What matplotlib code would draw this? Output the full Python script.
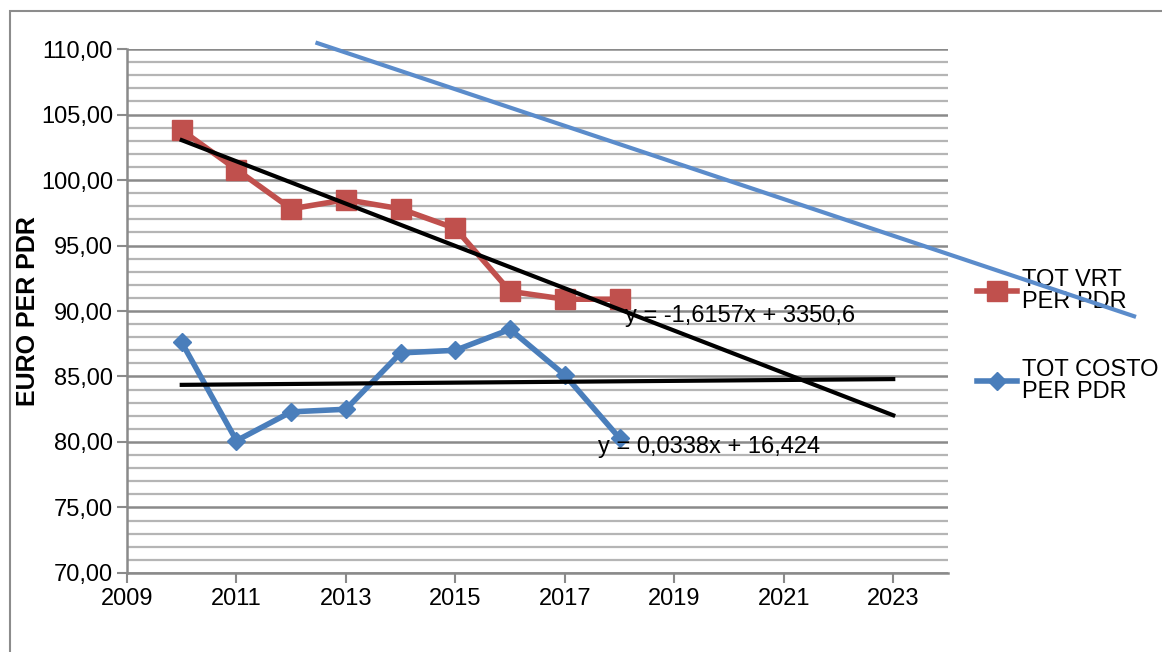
import matplotlib
matplotlib.use('Agg')
import matplotlib.pyplot as plt
from matplotlib.patches import Rectangle
from matplotlib.lines import Line2D
import numpy as np

plt.rcParams['font.family'] = ['Liberation Sans', 'DejaVu Sans']

years = [2010, 2011, 2012, 2013, 2014, 2015, 2016, 2017, 2018]
tot_vrt = [103.8, 100.8, 97.8, 98.5, 97.8, 96.3, 91.5, 90.9, 90.9]
tot_costo = [87.6, 80.1, 82.3, 82.5, 86.8, 87.0, 88.6, 85.1, 80.3]

# trend lines (slope, intercept) and the years they span
vrt_fit = (-1.6157, 3350.6)
costo_fit = (0.0338, 16.424)
trend_years = [2010, 2023]

# free-hand straight line drawn across the chart
arrow_x = [2012.48, 2027.4]
arrow_y = [110.45, 89.6]

RED = '#C0504D'
BLUE = '#4A7EBB'

fig = plt.figure(figsize=(11.62, 6.52), dpi=100)
ax = fig.add_axes([0.1093, 0.1212, 0.7065, 0.8036])

# outer chart frame
fig.patches.append(Rectangle((0.009, -0.1), 1.2, 1.083, transform=fig.transFigure,
                             fill=False, edgecolor='#8c8c8c', linewidth=1.5))

ax.set_xlim(2009, 2024)
ax.set_ylim(70, 110)
ax.set_xticks(np.arange(2009, 2024, 2))
ax.set_yticks(np.arange(70, 111, 5))
ax.set_yticks(np.arange(70, 111, 1), minor=True)
ax.yaxis.set_major_formatter(plt.FuncFormatter(lambda v, p: f'{v:.2f}'.replace('.', ',')))

ax.grid(True, axis='y', which='major', color='#8a8a8a', linewidth=1.8)
ax.grid(True, axis='y', which='minor', color='#b5b5b5', linewidth=1.6)
ax.set_axisbelow(True)

for side in ['top', 'right']:
    ax.spines[side].set_visible(False)
for side in ['left', 'bottom']:
    ax.spines[side].set_color('#8a8a8a')
    ax.spines[side].set_linewidth(1.8)
ax.tick_params(axis='both', which='major', direction='out', length=7, width=1.5,
               color='#8a8a8a', labelsize=17, pad=3)
ax.tick_params(axis='x', which='major', pad=4)
ax.tick_params(axis='y', which='minor', length=0)

ax.set_ylabel('EURO PER PDR', fontsize=18, fontweight='bold', labelpad=1)

# data series
ax.plot(years, tot_vrt, color=RED, linewidth=4, marker='s', markersize=14,
        label='TOT VRT\nPER PDR', zorder=4)
ax.plot(years, tot_costo, color=BLUE, linewidth=4, marker='D', markersize=9,
        label='TOT COSTO\nPER PDR', zorder=4)

# linear trends
tx = np.array(trend_years)
ax.plot(tx, vrt_fit[0] * tx + vrt_fit[1], color='black', linewidth=3, zorder=5)
ax.plot(tx, costo_fit[0] * tx + costo_fit[1], color='black', linewidth=3, zorder=5)

ax.text(2018.1, 89.6, 'y = -1,6157x + 3350,6', fontsize=17, va='center', zorder=6)
ax.text(2017.6, 79.6, 'y = 0,0338x + 16,424', fontsize=17, va='center', zorder=6)

# legend at the right of the plot area
leg_handles = [
    Line2D([0], [0], color=RED, linewidth=4, marker='s', markersize=14),
    Line2D([0], [0], color=BLUE, linewidth=4, marker='D', markersize=9),
]
leg = ax.legend(leg_handles, ['TOT VRT\nPER PDR', 'TOT COSTO\nPER PDR'],
                loc='upper left', bbox_to_anchor=(1.024, 0.598), frameon=False,
                fontsize=17, handlelength=1.7, handletextpad=0.2,
                labelspacing=1.95, borderaxespad=0)
leg.set_zorder(6)
for t in leg.get_texts():
    t.set_linespacing(1.0)

ax.plot(arrow_x, arrow_y, color='#5B8CCB', linewidth=3, clip_on=False, zorder=7)

fig.savefig('out.png', dpi=100, facecolor='white')
